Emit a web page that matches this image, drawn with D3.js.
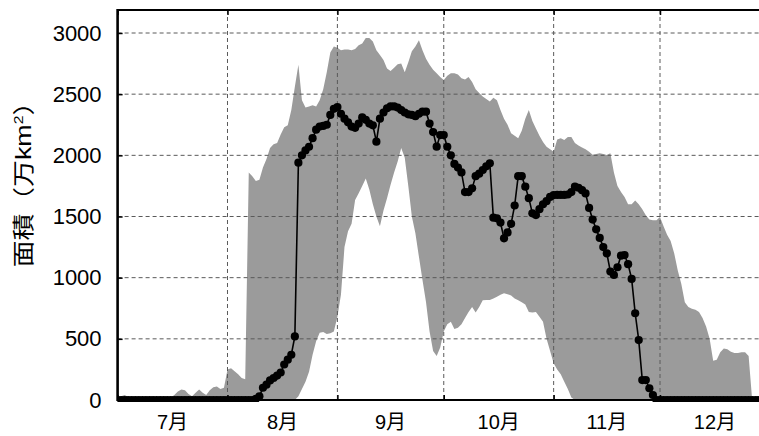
<!DOCTYPE html>
<html><head><meta charset="utf-8">
<script src="https://cdn.jsdelivr.net/npm/d3@7"></script>
<style>html,body{margin:0;padding:0;background:#fff;} svg{display:block;}</style>
</head><body>
<svg id="chart" width="759" height="436"></svg>
<script>
// ---- data ----
const monthLabels = ["7月", "8月", "9月", "10月", "11月", "12月"];
const yTicks = [0, 500, 1000, 1500, 2000, 2500, 3000];
const yTitleParts = ["面積（万", "km", "2", "）"];
// daily values from 1 July to 31 December
const seriesLine = [
  0,0,0,0,0,0,0,0,0,0, 0,0,0,0,0,0,0,0,0,0, 0,0,0,0,0,0,0,0,0,0, 0,0,0,0,0,0,0,0,0,
  10,30,100,125,160,180,200,225,290,330,370,520,
  1940,2000,2040,2070,2140,2210,2235,2240,2250,2330,2380,2395,2340,2300,2270,2235,2225,2260,2310,2290,
  2260,2245,2112,2300,2350,2385,2400,2400,2390,2370,2350,2335,2330,2320,2340,2357,2357,2260,2190,2071,
  2166,2166,2070,2000,1930,1900,1860,1700,1700,1730,1830,1850,1880,1910,1935,1490,1485,1450,1322,1370,
  1440,1590,1830,1830,1744,1650,1526,1512,1560,1600,1625,1660,1675,1676,1676,1676,1680,1700,1744,1735,
  1715,1689,1570,1475,1395,1325,1250,1199,1050,1022,1085,1180,1185,1110,990,709,490,163,163,96,41,
  0,0,0,0,0,0,0,0,0,0, 0,0,0,0,0,0,0,0,0,0, 0,0,0,0,0,0,0,0,0,0, 0,0
];
const bandUpper = [
  15,30,40,25,10,10,5,5,5,10, 10,5,5,10,15,20,40,70,85,80, 50,30,60,85,60,40,80,105,110,90, 100,250,260,235,210,180,170,
  1860,1830,1790,1800,1900,1970,2060,2090,2100,2170,2230,2245,2370,2560,2740,2450,2390,2400,2410,2400,
  2450,2540,2680,2840,2890,2880,2860,2865,2866,2860,2870,2900,2915,2960,2960,2930,2860,2820,2780,2710,
  2690,2715,2745,2750,2680,2760,2850,2890,2940,2860,2790,2740,2700,2670,2640,2616,2650,2670,2670,2660,
  2630,2620,2640,2600,2540,2510,2480,2460,2440,2470,2450,2370,2300,2250,2180,2160,2140,2200,2300,2370,
  2280,2220,2160,2110,2070,2050,2030,2130,2140,2125,2150,2150,2100,2080,2065,2050,2030,2005,2010,2017,
  2010,2003,2017,1860,1750,1700,1660,1600,1600,1630,1600,1560,1510,1475,1470,1470,1495,1420,1350,1300,
  1200,1060,950,800,760,745,738,720,670,600,500,320,330,390,420,415,395,385,385,390,390,360,
  0,0,0,0,0
];
const bandLower = [
  0,0,0,0,0,0,0,0,0,0, 0,0,0,0,0,0,0,0,0,0, 0,0,0,0,0,0,0,0,0,0, 0,0,0,0,0,0,0,0,0,0, 0,0,0,0,0,0,0,0,0,0, 0,
  30,90,150,230,370,480,550,555,540,545,560,680,860,1250,1380,1440,1635,1690,1750,1810,
  1720,1600,1500,1420,1550,1650,1760,1860,1950,2060,1980,1750,1500,1363,1170,980,800,560,400,360,
  430,560,620,640,580,590,620,670,720,760,715,760,815,817,817,830,845,860,872,865,
  855,830,815,800,780,720,715,720,680,640,500,400,300,250,210,150,90,20,
  0,0,0,0,0,0,0,0,0,0, 0,0,0,0,0,0,0,0,0,0, 0,0,0,0,0,0,0,0,0,0, 0,0,0,0,0,0,0,0,0,0,
  0,0,0,0,0,0,0,0,0,0, 0,0,0,0,0
];

// ---- chart ----
const svg = d3.select("#chart");
const days = seriesLine.map((_, i) => new Date(Date.UTC(2023, 6, 1 + i)));
const monthStarts = d3.range(0, 7).map(k => new Date(Date.UTC(2023, 6 + k, 1)));

const x = d3.scaleUtc()
  .domain([monthStarts[0], monthStarts[6]])
  .range([117.6, 769.9]);
const y = d3.scaleLinear().domain([0, 3000]).range([400, 33]);
const plotTop = 10, plotBottom = 400, plotLeft = 117.6, plotRight = 769.9;

svg.append("defs").append("clipPath").attr("id", "clip")
  .append("rect").attr("x", plotLeft).attr("y", plotTop)
  .attr("width", plotRight - plotLeft).attr("height", plotBottom - plotTop + 2);

const plot = svg.append("g").attr("clip-path", "url(#clip)");

// band
const area = d3.area()
  .x((d, i) => x(days[i]))
  .y0((d, i) => y(bandLower[i]))
  .y1((d, i) => y(bandUpper[i]));
plot.append("path").datum(bandUpper).attr("d", area).attr("fill", "#9b9b9b");

// gridlines
plot.append("g").selectAll("line").data(yTicks.filter(v => v > 0)).join("line")
  .attr("x1", plotLeft).attr("x2", plotRight)
  .attr("y1", d => y(d)).attr("y2", d => y(d))
  .attr("stroke", "#5a5a5a").attr("stroke-width", 1).attr("stroke-dasharray", "4,3");
plot.append("g").selectAll("line").data(monthStarts.slice(1, 6)).join("line")
  .attr("x1", d => x(d)).attr("x2", d => x(d))
  .attr("y1", plotTop).attr("y2", plotBottom)
  .attr("stroke", "#5a5a5a").attr("stroke-width", 1).attr("stroke-dasharray", "4,3");

// line + dots
const line = d3.line().x((d, i) => x(days[i])).y(d => y(d));
plot.append("path").datum(seriesLine).attr("d", line)
  .attr("fill", "none").attr("stroke", "#000").attr("stroke-width", 1.6);
plot.append("g").selectAll("circle").data(seriesLine).join("circle")
  .attr("cx", (d, i) => x(days[i])).attr("cy", d => y(d)).attr("r", 4.1).attr("fill", "#000");

// axes
const yAxis = d3.axisLeft(y).tickValues(yTicks).tickFormat(d3.format("d"))
  .tickSizeInner(-5).tickSizeOuter(0).tickPadding(16);
const gy = svg.append("g").attr("transform", `translate(${plotLeft},0)`).call(yAxis);
gy.select(".domain").remove();
gy.selectAll(".tick line").attr("stroke", "#000").attr("stroke-width", 1.5);
gy.selectAll("text").attr("font-family", "'Liberation Sans', Arial, sans-serif")
  .attr("font-size", 22).attr("fill", "#000");

const xAxis = d3.axisBottom(x).tickValues(monthStarts).tickSizeInner(-5).tickSizeOuter(0).tickFormat("");
const gx = svg.append("g").attr("transform", `translate(0,${plotBottom})`).call(xAxis);
gx.select(".domain").remove();
gx.selectAll(".tick line").attr("stroke", "#000").attr("stroke-width", 1.5);
const xTop = d3.axisTop(x).tickValues(monthStarts).tickSizeInner(-5).tickSizeOuter(0).tickFormat("");
const gxt = svg.append("g").attr("transform", `translate(0,${plotTop})`).call(xTop);
gxt.select(".domain").remove();
gxt.selectAll(".tick line").attr("stroke", "#000").attr("stroke-width", 1.5);

svg.append("g").selectAll("text").data(monthLabels).join("text")
  .attr("x", (d, i) => (x(monthStarts[i]) + x(monthStarts[i + 1])) / 2)
  .attr("y", 429)
  .attr("text-anchor", "middle")
  .attr("font-family", "'Liberation Sans', 'Noto Sans CJK JP', sans-serif")
  .attr("font-size", 20).attr("fill", "#000")
  .text(d => d);

// frame
svg.append("line").attr("x1", plotLeft).attr("x2", plotLeft).attr("y1", plotTop - 1).attr("y2", plotBottom + 1)
  .attr("stroke", "#000").attr("stroke-width", 2.6);
svg.append("line").attr("x1", plotLeft).attr("x2", plotRight).attr("y1", plotTop).attr("y2", plotTop)
  .attr("stroke", "#000").attr("stroke-width", 2);
svg.append("line").attr("x1", plotLeft).attr("x2", plotRight).attr("y1", plotBottom).attr("y2", plotBottom)
  .attr("stroke", "#000").attr("stroke-width", 2);

// y title
const title = svg.append("text")
  .attr("transform", "translate(31,178) rotate(-90) scale(1.22,1)")
  .attr("text-anchor", "middle")
  .attr("font-family", "'Noto Sans CJK JP', sans-serif")
  .attr("font-size", 22).attr("fill", "#000");
title.append("tspan").text(yTitleParts[0]);
title.append("tspan").attr("font-family", "'Liberation Sans', Arial, sans-serif").text(yTitleParts[1]);
title.append("tspan").attr("font-family", "'Liberation Sans', Arial, sans-serif")
  .attr("font-size", 13).attr("dy", -8).text(yTitleParts[2]);
title.append("tspan").attr("dy", 8).text(yTitleParts[3]);
</script>
</body></html>
